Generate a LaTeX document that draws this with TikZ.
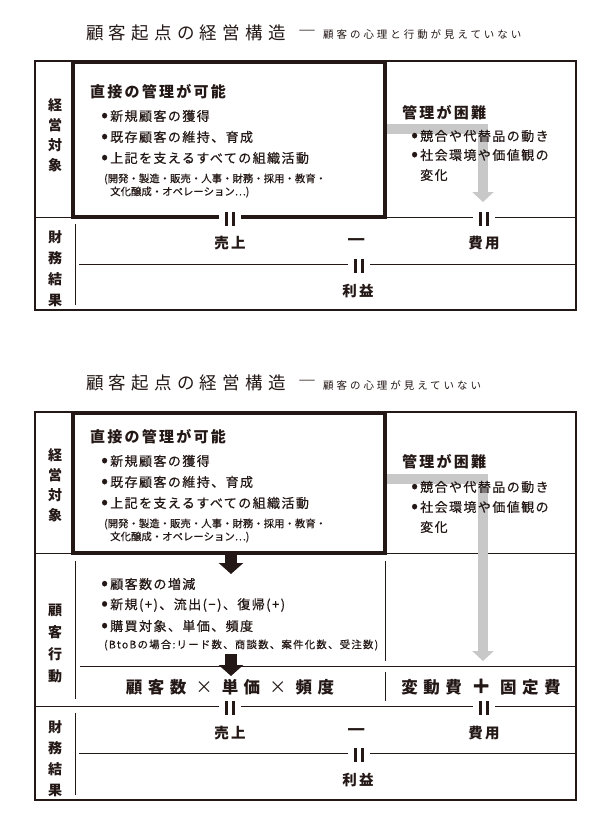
\documentclass[tikz,border=0pt]{standalone}
\usepackage{fontspec}
\setmainfont{Noto Sans CJK JP}
\usetikzlibrary{arrows.meta}
\definecolor{ink}{HTML}{231815}
\definecolor{greyarrow}{HTML}{C8C8C8}
\newcommand{\bul}{\makebox[9pt][l]{\fontsize{20}{10}\selectfont\raisebox{-0.6pt}{•}}}
\newcommand{\plussign}{{\fontsize{20}{17}\selectfont\addfontfeature{FakeBold=2.5,LetterSpace=0}＋}}
\newcommand{\timessign}{{\mdseries\fontsize{17}{17}\selectfont ×}}
\tikzset{
  ttl/.style={anchor=west, inner sep=0pt, text=ink, font=\fontsize{17.5}{18}\selectfont\addfontfeature{LetterSpace=30}},
  ttldash/.style={inner sep=0pt, text=ink, font=\fontsize{18}{18}\selectfont},
  subttl/.style={anchor=west, inner sep=0pt, text=ink, font=\fontsize{10.5}{11}\selectfont\addfontfeature{LetterSpace=28}},
  frame/.style={draw=ink, line width=1.1pt},
  rule/.style={draw=ink, line width=0.9pt},
  heavybox/.style={draw=ink, line width=4pt},
  sect/.style={inner sep=0pt, text=ink, align=center, font=\fontsize{14}{#1}\selectfont\bfseries},
  sect/.default=20,
  head/.style={anchor=west, inner sep=0pt, text=ink, font=\fontsize{15}{16}\selectfont\bfseries\addfontfeature{LetterSpace=15}},
  item/.style={anchor=west, inner sep=0pt, text=ink, font=\fontsize{13}{14}\selectfont\addfontfeature{LetterSpace=11,FakeBold=0.5}},
  note/.style={anchor=west, inner sep=0pt, text=ink, font=\fontsize{10.4}{11}\selectfont\addfontfeature{FakeBold=0.3}},
  widenote/.style={note, font=\fontsize{10.4}{11}\selectfont\addfontfeature{LetterSpace=12,FakeBold=0.3}},
  fin/.style={inner sep=0pt, text=ink, font=\fontsize{14.5}{15}\selectfont\bfseries\addfontfeature{LetterSpace=15}},
  formula/.style={inner sep=0pt, text=ink, font=\fontsize{16.5}{17}\selectfont\bfseries\addfontfeature{LetterSpace=33}},
  eqsign/.style={minimum width=22pt, minimum height=14pt, inner sep=0pt, fill=white,
    path picture={\draw[ink, line width=2.4pt]
      ([xshift=-3.6pt]path picture bounding box.north) -- ([xshift=-3.6pt]path picture bounding box.south)
      ([xshift=3.6pt]path picture bounding box.north) -- ([xshift=3.6pt]path picture bounding box.south);}},
  minus/.style={inner sep=0pt, text=ink, font=\fontsize{20}{20}\selectfont\bfseries},
  greyflow/.style={draw=greyarrow, line width=10pt, -{Triangle[width=21pt,length=10pt]}},
  blackflow/.style={draw=ink, line width=11.5pt, -{Triangle[width=24pt,length=11pt]}},
}
\begin{document}
\begin{tikzpicture}[x=1pt,y=-1pt]
\useasboundingbox (0,0) rectangle (608,835);
\fill[white] (0,0) rectangle (608,835);

% ================= TOP DIAGRAM =================
\node[ttl] (t1) at (86,33) {顧客起点の経営構造};
\node[ttldash] (t1d) at (307,34) {―};
\node[subttl] (t1s) at (323,35) {顧客の心理と行動が見えていない};

\draw[frame] (35,61) rectangle (576,310);
\draw[rule] (35,217) -- (71,217);
\draw[rule] (387,217) -- (576,217);
\draw[rule] (79,264) -- (576,264);
\draw[rule] (75,224) -- (75,305);

\coordinate (g1a) at (387,129);
\coordinate (g1b) at (483,202);
\draw[greyflow] (g1a) -| (g1b);
\draw[heavybox] (73,62) rectangle (385,217);

\node[eqsign] (e11) at (230,219) {};
\node[eqsign] (e12) at (484,219) {};
\node[eqsign] (e13) at (359,265.5) {};

\node[sect] (s1a) at (55,135) {経\\営\\対\\象};
\node[head] (h1) at (90,92) {直接の管理が可能};
\node[item] (i11) at (101,116) {\bul 新規顧客の獲得};
\node[item] (i12) at (101,137) {\bul 既存顧客の維持、育成};
\node[item] (i13) at (101,158) {\bul 上記を支えるすべての組織活動};
\node[note] (n11) at (104,179) {(開発・製造・販売・人事・財務・採用・教育・};
\node[note] (n12) at (110,192) {文化醸成・オペレーション…)};

\node[head] (h2) at (402,113) {管理が困難};
\node[item] (i21) at (411,136) {\bul 競合や代替品の動き};
\node[item] (i22) at (411,155) {\bul 社会環境や価値観の};
\node[item] (i23) at (420,175) {変化};

\node[sect=21] (s1b) at (55,268.5) {財\\務\\結\\果};
\node[fin] (sales1) at (230,243) {売上};
\node[minus] (m1) at (357,242) {—};
\node[fin] (cost1) at (484,243) {費用};
\node[fin] (prof1) at (358,291) {利益};

% ================= BOTTOM DIAGRAM =================
\node[ttl] (t2) at (86,383) {顧客起点の経営構造};
\node[ttldash] (t2d) at (307,384) {―};
\node[subttl] (t2s) at (323,385) {顧客の心理が見えていない};

\draw[frame] (35,412) rectangle (576,800);
\draw[rule] (35,553) -- (71,553);
\draw[rule] (387,553) -- (576,553);
\draw[rule] (75,561) -- (75,699);
\draw[rule] (385,561) -- (385,661);
\draw[rule] (385,672) -- (385,701);
\draw[rule] (80,666) -- (576,666);
\draw[rule] (35,706) -- (576,706);
\draw[rule] (79,753) -- (576,753);
\draw[rule] (75,713) -- (75,795);

\coordinate (g2a) at (387,479);
\coordinate (g2b) at (483,661);
\draw[greyflow] (g2a) -| (g2b);
\draw[heavybox] (73,413) rectangle (385,553);

\coordinate (b1a) at (231,555);
\coordinate (b1b) at (231,574);
\coordinate (b2a) at (231,654);
\coordinate (b2b) at (231,676);
\draw[blackflow] (b1a) -- (b1b);
\draw[blackflow] (b2a) -- (b2b);

\node[eqsign] (e21) at (230,708) {};
\node[eqsign] (e22) at (484,708) {};
\node[eqsign] (e23) at (359,754.5) {};

\node[sect] (s2a) at (55,485) {経\\営\\対\\象};
\node[head] (h3) at (90,437) {直接の管理が可能};
\node[item] (i31) at (101,461) {\bul 新規顧客の獲得};
\node[item] (i32) at (101,482) {\bul 既存顧客の維持、育成};
\node[item] (i33) at (101,503) {\bul 上記を支えるすべての組織活動};
\node[note] (n31) at (104,524) {(開発・製造・販売・人事・財務・採用・教育・};
\node[note] (n32) at (110,537) {文化醸成・オペレーション…)};

\node[head] (h4) at (402,462) {管理が困難};
\node[item] (i41) at (411,487) {\bul 競合や代替品の動き};
\node[item] (i42) at (411,507) {\bul 社会環境や価値観の};
\node[item] (i43) at (420,527) {変化};

\node[sect=22] (s2b) at (55,643.5) {顧\\客\\行\\動};
\node[item] (i51) at (101,584) {\bul 顧客数の増減};
\node[item] (i52) at (101,605) {\bul 新規(+)、流出(−)、復帰(+)};
\node[item] (i53) at (101,626) {\bul 購買対象、単価、頻度};
\node[widenote] (n51) at (104,645) {(BtoBの場合:リード数、商談数、案件化数、受注数)};
\node[formula] (f1) at (230,687) {顧客数 \timessign\ 単価 \timessign\ 頻度};
\node[formula] (f2) at (481,687) {変動費 \plussign\ 固定費};

\node[sect=21] (s2c) at (55,758.5) {財\\務\\結\\果};
\node[fin] (sales2) at (230,733) {売上};
\node[minus] (m2) at (357,732) {—};
\node[fin] (cost2) at (484,733) {費用};
\node[fin] (prof2) at (358,780) {利益};
\end{tikzpicture}
\end{document}
